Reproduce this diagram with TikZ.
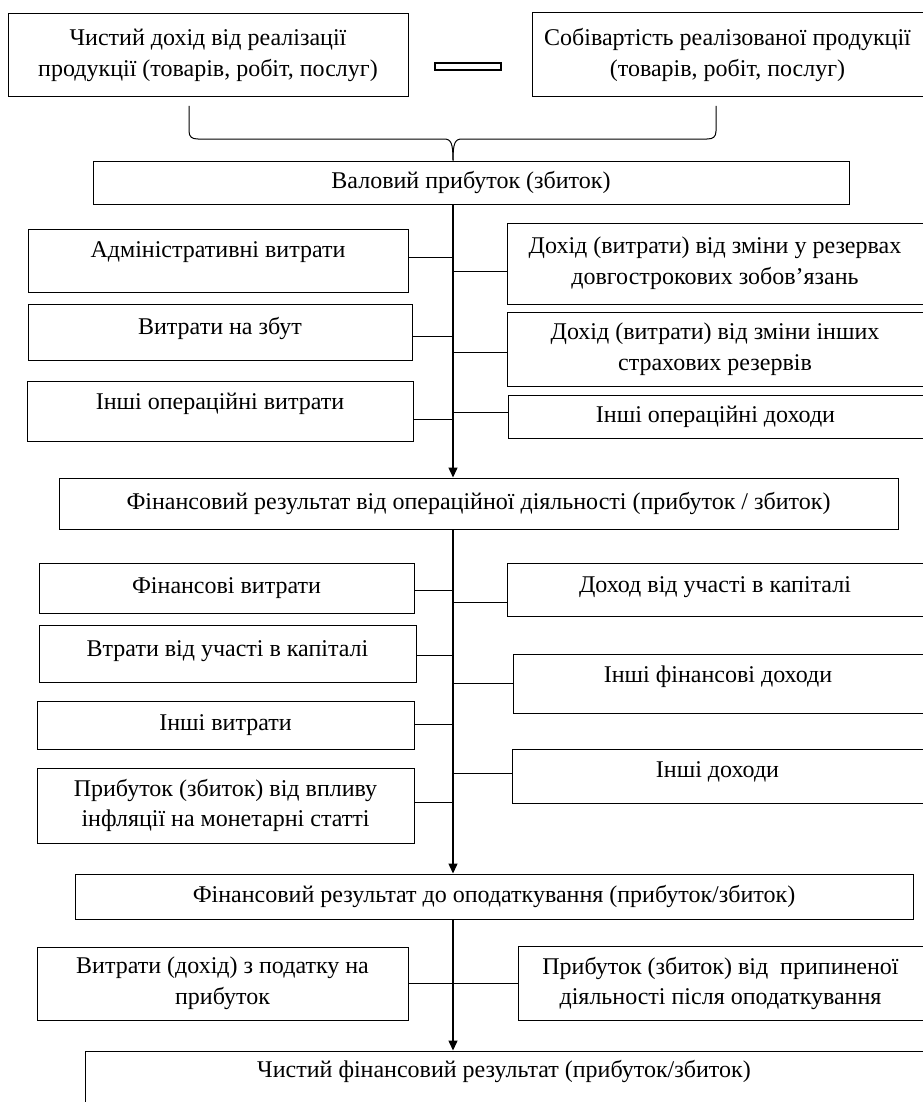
\documentclass[tikz,border=0pt]{standalone}
\usepackage{fontspec}
\setmainfont{Liberation Serif}
\usetikzlibrary{arrows.meta, positioning}

\begin{document}
\begin{tikzpicture}[x=0.5pt, y=-0.5pt,
    blk/.style={draw, line width=0.5pt, align=center, inner sep=2pt,
      font=\fontsize{12}{15.3}\selectfont},
    lnk/.style={line width=0.5pt},
    arr/.style={line width=0.7pt, -{Triangle[length=5pt,width=4.5pt]}}]
  \useasboundingbox (0,0) rectangle (922,1102);
  \coordinate (spine) at (453,0);

  % top: revenue minus cost
  \node[blk, minimum width=200pt, minimum height=41.5pt] (dokhid) at (208,55.5)
    {Чистий дохід від реалізації\\продукції (товарів, робіт, послуг)};
  \node[draw, line width=0.8pt, minimum width=33pt, minimum height=3.5pt, inner sep=0pt] (minus) at (468,66.5) {};
  \node[blk, minimum width=195.5pt, minimum height=42pt] (sobiv) at (727.5,55)
    {Собівартість реалізованої продукції\\(товарів, робіт, послуг)};
  \node[blk, minimum width=378pt, minimum height=21.5pt] (valovyi) at (471,182.5)
    {Валовий прибуток (збиток)};

  \draw[lnk] (189,106) -- (189,131) .. controls (189,137) and (192,139) .. (198,139)
    -- (444,139) .. controls (451,139) and (453,143) .. (spine |- valovyi.north);
  \draw[lnk] (716,106) -- (716,131) .. controls (716,137) and (713,139) .. (707,139)
    -- (462,139) .. controls (455,139) and (453,143) .. (spine |- valovyi.north);

  % operating items
  \node[blk, minimum width=190pt, minimum height=31.5pt, text depth=10.5pt] (admin) at (218,260.5)
    {Адміністративні витрати};
  \node[blk, minimum width=192pt, minimum height=28pt, text depth=6.5pt] (zbut) at (220,332)
    {Витрати на збут};
  \node[blk, minimum width=193pt, minimum height=30pt, text depth=9.5pt] (inshopvytr) at (220,411)
    {Інші операційні витрати};
  \node[blk, minimum width=208pt, minimum height=40.5pt] (rezdovg) at (715,263.5)
    {Дохід (витрати) від зміни у резервах\\довгострокових зобов’язань};
  \node[blk, minimum width=208pt, minimum height=37pt] (rezinshi) at (715,349)
    {Дохід (витрати) від зміни інших\\страхових резервів};
  \node[blk, minimum width=207.5pt, minimum height=21.5pt] (inshopdokh) at (715.5,416.5)
    {Інші операційні доходи};

  \node[blk, minimum width=419.5pt, minimum height=25.5pt] (finop) at (478.5,503.5)
    {Фінансовий результат від операційної діяльності (прибуток / збиток)};

  \draw[arr] (spine |- valovyi.south) -- (spine |- finop.north);
  \foreach \n/\dy in {admin/1.75pt, zbut/-2pt, inshopvytr/-4pt}
    \draw[lnk] ([yshift=\dy]\n.east) -- ([yshift=\dy]\n.east -| spine);
  \foreach \n/\dy in {rezdovg/-3.75pt, rezinshi/-1.5pt, inshopdokh/2.25pt}
    \draw[lnk] ([yshift=\dy]\n.west) -- ([yshift=\dy]\n.west -| spine);

  % financial items
  \node[blk, minimum width=187.5pt, minimum height=25pt] (finvytr) at (226.5,588)
    {Фінансові витрати};
  \node[blk, minimum width=188.5pt, minimum height=28.5pt, text depth=5pt] (vtraty) at (227.5,653.5)
    {Втрати від участі в капіталі};
  \node[blk, minimum width=188.5pt, minimum height=24pt] (inshvytr) at (225.5,725)
    {Інші витрати};
  \node[blk, minimum width=188.5pt, minimum height=37.5pt] (inflyac) at (225.5,805.5)
    {Прибуток (збиток) від впливу\\інфляції на монетарні статті};
  \node[blk, minimum width=208pt, minimum height=26.5pt, text depth=5pt] (uchast) at (715,589.5)
    {Доход від участі в капіталі};
  \node[blk, minimum width=205pt, minimum height=29.5pt, text depth=9pt] (inshfin) at (718,683.5)
    {Інші фінансові доходи};
  \node[blk, minimum width=205.5pt, minimum height=27pt, text depth=6.5pt] (inshdokh) at (717.5,776)
    {Інші доходи};

  \node[blk, minimum width=419pt, minimum height=22.5pt] (findo) at (494,896.5)
    {Фінансовий результат до оподаткування (прибуток/збиток)};

  \draw[arr] (spine |- finop.south) -- (spine |- findo.north);
  \foreach \n/\dy in {finvytr/-1pt, vtraty/-0.75pt, inshvytr/0.5pt, inflyac/1.75pt}
    \draw[lnk] ([yshift=\dy]\n.east) -- ([yshift=\dy]\n.east -| spine);
  \foreach \n/\dy in {uchast/-6.25pt, inshfin/0pt, inshdokh/1.5pt}
    \draw[lnk] ([yshift=\dy]\n.west) -- ([yshift=\dy]\n.west -| spine);

  % tax
  \node[blk, minimum width=185.5pt, minimum height=36.5pt] (podatok) at (222.5,983.5)
    {Витрати (дохід) з податку на\\прибуток};
  \node[blk, minimum width=202.5pt, minimum height=37pt] (prypyn) at (720.5,983.5)
    {Прибуток (збиток) від\ \ припиненої\\діяльності після оподаткування};
  \node[blk, minimum width=419pt, minimum height=26.5pt, text depth=9pt] (chystyi) at (504,1077.5)
    {Чистий фінансовий результат (прибуток/збиток)};

  \draw[arr] (spine |- findo.south) -- (spine |- chystyi.north);
  \draw[lnk] (podatok.east) -- (prypyn.west);
\end{tikzpicture}
\end{document}
